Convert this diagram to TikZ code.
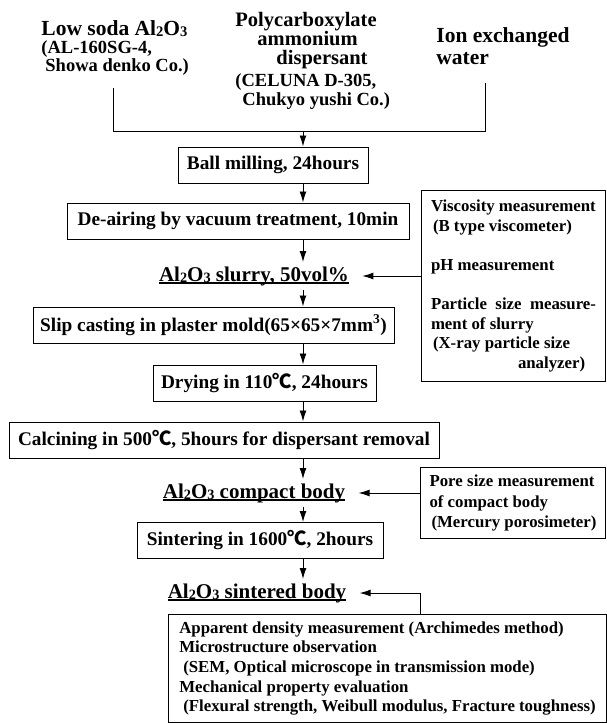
\documentclass[tikz,border=0pt]{standalone}
\usepackage{fontspec}
\setmainfont{Liberation Serif}
\newfontfamily\cjk{Noto Sans CJK JP}
\usetikzlibrary{%
  arrows.meta,%
  positioning% wg. " of "
}
\newcommand{\degC}{{\cjk ℃}}
\newcommand{\lowdigit}[1]{\raisebox{-1.5pt}{\scalebox{0.68}{#1}}}
\newcommand{\alo}{Al\lowdigit{2}O\lowdigit{3}}
\newcommand{\srcsmall}{\fontsize{18.5}{18}\selectfont}
\newsavebox{\ulnbox}
\newcommand{\uln}[1]{\sbox{\ulnbox}{#1}\rlap{\rule[-2.5pt]{\wd\ulnbox}{1.1pt}}\usebox{\ulnbox}}

\begin{document}
\begin{tikzpicture}
  [
  x=1pt, y=-1pt, line width=0.9pt, draw=black,
  >={Latex[length=11pt,width=7pt]},
  material/.style={align=left, inner sep=0pt, anchor=north west, font=\bfseries\fontsize{21.5}{18}\selectfont},
  stepbox/.style={rectangle, draw=black, line width=1pt, minimum height=36pt, inner xsep=6pt, font=\bfseries\fontsize{19.3}{22}\selectfont},
  product/.style={inner xsep=13pt, inner ysep=4pt, font=\bfseries\fontsize{21}{24}\selectfont},
  testbox/.style={rectangle, draw=black, line width=1pt, anchor=north west, align=left, inner xsep=9pt, font=\bfseries\fontsize{16.8}{19.6}\selectfont}
  ]

\useasboundingbox (0,0) rectangle (606,723);

% raw materials
\node[material] (alumina) at (41,20) {Low soda \alo\\{\srcsmall (AL-160SG-4,}\\{\srcsmall\hspace*{4pt}Showa denko Co.)}};
\node[material, font=\bfseries\fontsize{20.5}{19}\selectfont] (dispersant) at (235,12)
  {Polycarboxylate\\\hspace*{22pt}ammonium\\\hspace*{41pt}dispersant\\[3pt]{\srcsmall (CELUNA D-305,}\\{\srcsmall\hspace*{7pt}Chukyo yushi Co.)}};
\node[material] (water) at (436,27) {Ion exchanged\\[4pt]water};

\coordinate (alumina end) at (113,88);
\coordinate (water end) at (485,83);
\coordinate (axis) at (303,131);

% process
\node[stepbox, minimum width=190pt] (ball) at (273,165) {Ball milling, 24hours};
\node[stepbox, minimum width=342pt] (deair) at (238,221) {De-airing by vacuum treatment, 10min};
\node[product] (slurry) at (254,276) {\uln{\alo\ slurry, 50vol\%}};
\node[stepbox, minimum width=361pt] (slip) at (213.5,325) {Slip casting in plaster mold(65×65×7mm\textsuperscript{3})};
\node[stepbox, minimum width=223pt] (dry) at (264.5,383) {Drying in 110\degC, 24hours};
\node[stepbox, minimum width=430pt] (calc) at (224,440) {Calcining in 500\degC, 5hours for dispersant removal};
\node[product] (compact) at (254,493) {\uln{\alo\ compact body}};
\node[stepbox, minimum width=246pt] (sinter) at (260,540.5) {Sintering in 1600\degC, 2hours};
\node[product] (sintered) at (257,593) {\uln{\alo\ sintered body}};

% measurements
\node[testbox, minimum width=184pt, minimum height=191pt] (slurrytest) at (421,190)
  {Viscosity measurement\\\hspace*{2pt}(B type viscometer)\\[19.6pt]pH measurement\\[19.6pt]\makebox[165pt][s]{Particle size measure-}\\ment of slurry\\\hspace*{2pt}(X-ray particle size\\\hspace*{87pt}analyzer)};
\node[testbox, minimum width=185pt, minimum height=71pt] (poretest) at (420,467)
  {\makebox[165pt][s]{Pore size measurement}\\[1pt]of compact body\\[1pt]\hspace*{2pt}(Mercury porosimeter)};
\node[testbox, minimum width=438pt, minimum height=108pt] (bodytest) at (168,614)
  {Apparent density measurement (Archimedes method)\\Microstructure observation\\\hspace*{4pt}(SEM, Optical microscope in transmission mode)\\Mechanical property evaluation\\\hspace*{4pt}(Flexural strength, Weibull modulus, Fracture toughness)};

\draw (alumina end) |- (water end |- axis) -- (water end);
\draw[->] (axis) -- (axis |- ball.north);
\foreach \a/\b in {ball/deair, deair/slurry, slurry/slip, slip/dry, dry/calc, calc/compact, compact/sinter, sinter/sintered} {
  \draw[->] (\a.south -| axis) -- (\b.north -| axis);
}
\draw[->] (slurrytest.west |- slurry.east) -- (slurry.east);
\draw[->] (poretest.west |- compact.east) -- (compact.east);
\draw[->] (bodytest.north -| poretest.west) |- (sintered.east);
\end{tikzpicture}
\end{document}
